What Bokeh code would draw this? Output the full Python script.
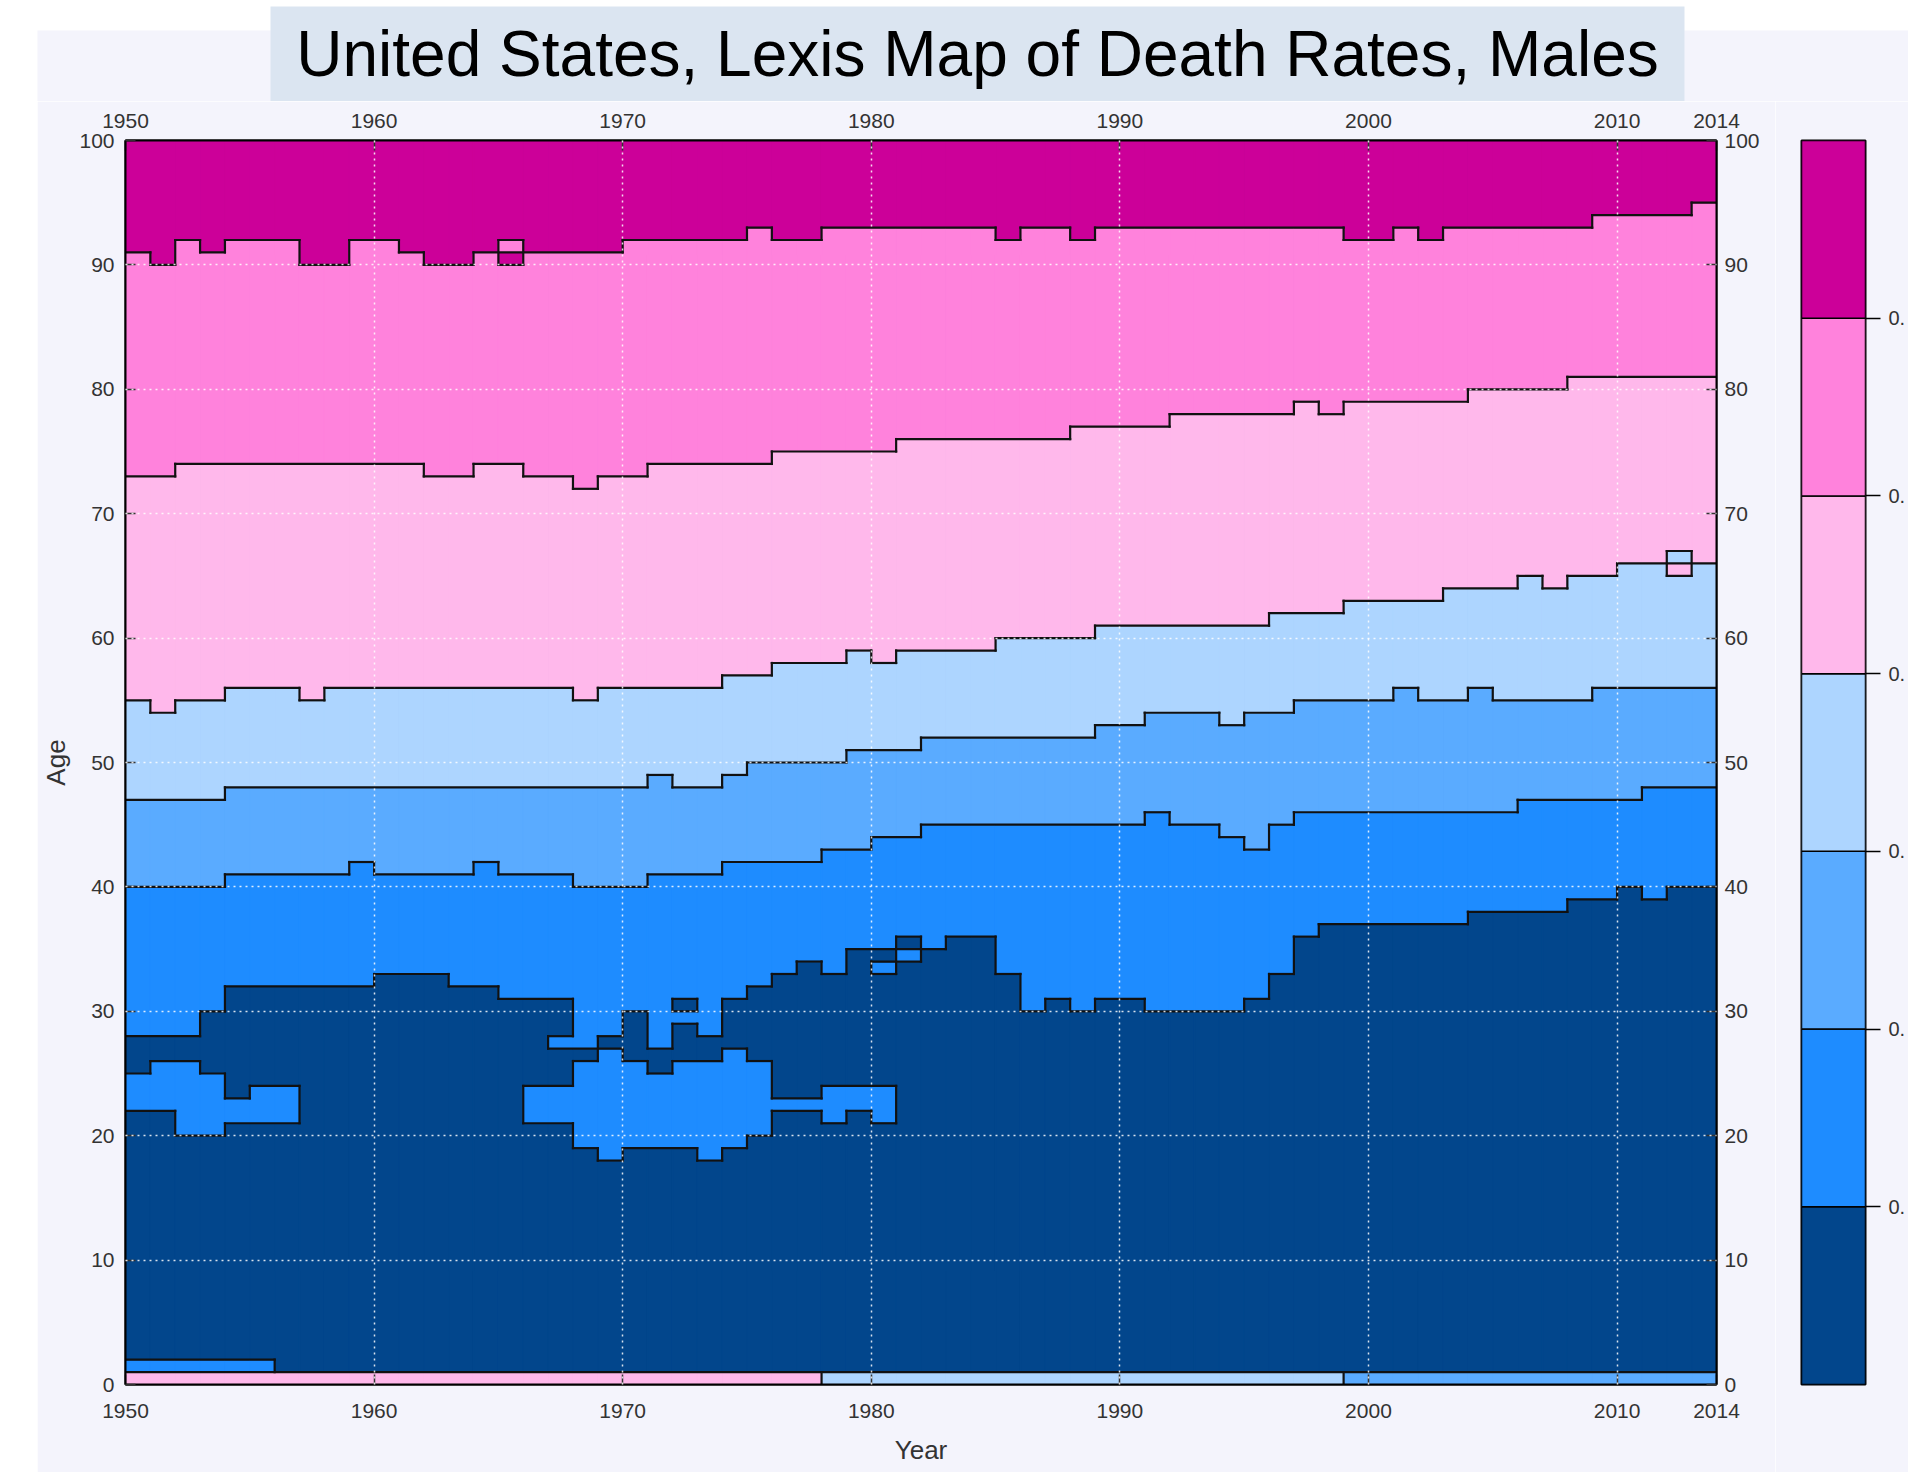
import numpy as np
from bokeh.plotting import figure
from bokeh.models import FixedTicker, LinearAxis, Range1d
from bokeh.layouts import row, column
from bokeh.core.properties import value
from bokeh.embed import file_html
from bokeh.resources import INLINE

# ---------------- data ----------------
years = list(range(1950, 2014))   # one column per calendar year (cell = [year, year+1))

# age at which class 6 (highest rate) starts, per year
b56 = [91, 90, 92, 91, 92, 92, 92, 90, 90, 92,
       92, 91, 90, 90, 91, 90, 91, 91, 91, 91,
       92, 92, 92, 92, 92, 93, 92, 92, 93, 93,
       93, 93, 93, 93, 93, 92, 93, 93, 92, 93,
       93, 93, 93, 93, 93, 93, 93, 93, 93, 92,
       92, 93, 92, 93, 93, 93, 93, 93, 93, 94,
       94, 94, 94, 95]
b45 = [73, 73, 74, 74, 74, 74, 74, 74, 74, 74,
       74, 74, 73, 73, 74, 74, 73, 73, 72, 73,
       73, 74, 74, 74, 74, 74, 75, 75, 75, 75,
       75, 76, 76, 76, 76, 76, 76, 76, 77, 77,
       77, 77, 78, 78, 78, 78, 78, 79, 78, 79,
       79, 79, 79, 79, 80, 80, 80, 80, 81, 81,
       81, 81, 81, 81]
b34 = [55, 54, 55, 55, 56, 56, 56, 55, 56, 56,
       56, 56, 56, 56, 56, 56, 56, 56, 55, 56,
       56, 56, 56, 56, 57, 57, 58, 58, 58, 59,
       58, 59, 59, 59, 59, 60, 60, 60, 60, 61,
       61, 61, 61, 61, 61, 61, 62, 62, 62, 63,
       63, 63, 63, 64, 64, 64, 65, 64, 65, 65,
       66, 66, 65, 66]
b23 = [47, 47, 47, 47, 48, 48, 48, 48, 48, 48,
       48, 48, 48, 48, 48, 48, 48, 48, 48, 48,
       48, 49, 48, 48, 49, 50, 50, 50, 50, 51,
       51, 51, 52, 52, 52, 52, 52, 52, 52, 53,
       53, 54, 54, 54, 53, 54, 54, 55, 55, 55,
       55, 56, 55, 55, 56, 55, 55, 55, 55, 56,
       56, 56, 56, 56]
b12 = [40, 40, 40, 40, 41, 41, 41, 41, 41, 42,
       41, 41, 41, 41, 42, 41, 41, 41, 40, 40,
       40, 41, 41, 41, 42, 42, 42, 42, 43, 43,
       44, 44, 45, 45, 45, 45, 45, 45, 45, 45,
       45, 46, 45, 45, 44, 43, 45, 46, 46, 46,
       46, 46, 46, 46, 46, 46, 47, 47, 47, 47,
       47, 48, 48, 48]
# ages where class toggles between 0 and 1 below b12 (starting with class 0 at age 1)
young = [[22, 25, 28], [22, 26, 28], [20, 26, 28], [20, 25, 30], [21, 23, 32],
         [21, 24, 32], [21, 24, 32], [32], [32], [32],
         [33], [33], [33], [32], [32], [31], [21, 24, 31], [21, 24, 27, 28, 31],
         [19, 26, 27], [18, 27, 28],
         [19, 26, 30], [19, 25, 27], [19, 26, 29, 30, 31], [18, 26, 28], [19, 27, 31],
         [20, 26, 32], [22, 23, 33], [22, 23, 34], [21, 24, 33], [22, 24, 35],
         [21, 24, 33, 34, 35], [34, 35, 36], [35], [36], [36],
         [33], [30], [31], [30], [31],
         [31], [30], [30], [30], [30], [31], [33], [36], [37], [37],
         [37], [37], [37], [37], [38], [38], [38], [38], [39], [39],
         [40], [39], [40], [40]]
infant = [4, 4, 4, 4, 4, 4, 4, 4, 4, 4,
          4, 4, 4, 4, 4, 4, 4, 4, 4, 4,
          4, 4, 4, 4, 4, 4, 4, 4, 3, 3,
          3, 3, 3, 3, 3, 3, 3, 3, 3, 3,
          3, 3, 3, 3, 3, 3, 3, 3, 3, 2,
          2, 2, 2, 2, 2, 2, 2, 2, 2, 2,
          2, 2, 2, 2]
age1 = [1, 1, 1, 1, 1, 1] + [0] * 58
fix_year = [1965, 2012]
fix_age = [91, 66]
fix_class = [5, 3]

class_colors = ["#02468C", "#1E8CFF", "#5AABFF", "#ADD5FF", "#FFB8EB", "#FF82DC", "#CC0099"]
x_ticks = [1950, 1960, 1970, 1980, 1990, 2000, 2010, 2014]
y_ticks = [0, 10, 20, 30, 40, 50, 60, 70, 80, 90, 100]
cb_labels = ["0.", "0.", "0.", "0.", "0.", "0."]
title_text = "United States, Lexis Map of Death Rates, Males"

# ---------------- class grid ----------------
NY, NA = len(years), 100
grid = np.zeros((NY, NA), dtype=int)
for i in range(NY):
    for a in range(NA):
        if a == 0:
            c = infant[i]
        elif a >= b56[i]:
            c = 6
        elif a >= b45[i]:
            c = 5
        elif a >= b34[i]:
            c = 4
        elif a >= b23[i]:
            c = 3
        elif a >= b12[i]:
            c = 2
        else:
            c = sum(1 for b in young[i] if a >= b) % 2
            if a == 1 and age1[i] == 1:
                c = 1
        grid[i, a] = c
for yy, aa, cc in zip(fix_year, fix_age, fix_class):
    grid[years.index(yy), aa] = cc

ql, qr, qb, qt, qc = [], [], [], [], []
for i, yr in enumerate(years):
    a0 = 0
    for a in range(1, NA + 1):
        if a == NA or grid[i, a] != grid[i, a0]:
            ql.append(yr); qr.append(yr + 1); qb.append(a0); qt.append(a)
            qc.append(class_colors[grid[i, a0]])
            a0 = a

sx0, sy0, sx1, sy1 = [], [], [], []
for a in range(1, NA):
    start = None
    for i in range(NY + 1):
        diff = i < NY and grid[i, a] != grid[i, a - 1]
        if diff and start is None:
            start = i
        if not diff and start is not None:
            sx0.append(years[start]); sx1.append(years[0] + i); sy0.append(a); sy1.append(a)
            start = None
for i in range(1, NY):
    start = None
    for a in range(NA + 1):
        diff = a < NA and grid[i, a] != grid[i - 1, a]
        if diff and start is None:
            start = a
        if not diff and start is not None:
            sx0.append(years[i]); sx1.append(years[i]); sy0.append(start); sy1.append(a)
            start = None

# ---------------- layout (page pixels) ----------------
PW, PH = 1908, 1472
TOP_H = 101
LEFT_W = 37
MAIN_R = 1775
FR_L, FR_R, FR_T, FR_B = 125, 1716, 140, 1384
CB_L, CB_R = 1801, 1866
BG = "#F4F4FC"
FONT = "Liberation Sans"
TXT = "#333333"
BODY_H = PH - TOP_H

# top strip with title box
top = figure(width=PW, height=TOP_H, x_range=Range1d(0, PW), y_range=Range1d(0, TOP_H),
             output_backend="svg", toolbar_location=None,
             x_axis_location=None, y_axis_location=None,
             min_border_left=0, min_border_right=0, min_border_top=0, min_border_bottom=0)
top.outline_line_color = None
top.background_fill_color = "white"
top.border_fill_color = "white"
top.xgrid.visible = False
top.ygrid.visible = False
top.quad(left=[LEFT_W], right=[PW], bottom=[0], top=[TOP_H - 30], fill_color=BG, line_color=None)
top.quad(left=[270], right=[1684], bottom=[0], top=[TOP_H - 6], fill_color="#DBE5F1", line_color=None)
top.text(x=[977], y=[48], text=[title_text], text_align="center",
         text_baseline="alphabetic", text_font=value(FONT), text_font_size="64px",
         text_color="black")

# white left margin
left = figure(width=LEFT_W, height=BODY_H, output_backend="svg", toolbar_location=None,
              x_axis_location=None, y_axis_location=None,
              min_border_left=0, min_border_right=0, min_border_top=0, min_border_bottom=0)
left.outline_line_color = None
left.background_fill_color = "white"
left.border_fill_color = "white"
left.xgrid.visible = False
left.ygrid.visible = False

# main Lexis map
p = figure(width=MAIN_R - LEFT_W, height=BODY_H, x_range=Range1d(1950, 2014), y_range=Range1d(0, 100),
           output_backend="svg", toolbar_location=None,
           min_border_left=FR_L - LEFT_W, min_border_right=MAIN_R - FR_R,
           min_border_top=FR_T - TOP_H, min_border_bottom=PH - FR_B,
           x_axis_location="below", y_axis_location="left")
p.border_fill_color = BG
p.border_fill_alpha = 1.0
p.background_fill_color = class_colors[0]
p.outline_line_color = "black"
p.outline_line_width = 2

p.quad(left=ql, right=qr, bottom=qb, top=qt, fill_color=qc, line_color=qc, line_width=1.2)
p.segment(x0=sx0, y0=sy0, x1=sx1, y1=sy1, line_color="#111111", line_width=2.2, line_cap="square")

def style_axis(ax, size):
    ax.major_label_text_font = FONT
    ax.major_label_text_font_size = size
    ax.major_label_text_color = TXT
    ax.major_tick_in = 10
    ax.major_tick_out = 0
    ax.minor_tick_line_color = None
    ax.major_tick_line_color = "#333333"
    ax.major_tick_line_width = 1.5
    ax.axis_line_color = "black"
    ax.axis_line_width = 2
    ax.axis_label_text_font = FONT
    ax.axis_label_text_font_style = "normal"
    ax.axis_label_text_color = TXT
    ax.axis_label_text_font_size = "26px"

p.xaxis.ticker = FixedTicker(ticks=x_ticks)
p.yaxis.ticker = FixedTicker(ticks=y_ticks)
p.xaxis.axis_label = "Year"
p.yaxis.axis_label = "Age"
for ax in p.xaxis:
    style_axis(ax, "21px")
for ax in p.yaxis:
    style_axis(ax, "21px")
p.xaxis.major_label_standoff = 19
p.yaxis.major_label_standoff = 11
p.xaxis.axis_label_standoff = 14
p.yaxis.axis_label_standoff = 5

top_ax = LinearAxis(ticker=FixedTicker(ticks=x_ticks))
style_axis(top_ax, "21px")
top_ax.major_label_standoff = 13
p.add_layout(top_ax, "above")
right_ax = LinearAxis(ticker=FixedTicker(ticks=y_ticks))
style_axis(right_ax, "21px")
right_ax.major_label_standoff = 8
p.add_layout(right_ax, "right")

p.xgrid.ticker = FixedTicker(ticks=[1960, 1970, 1980, 1990, 2000, 2010])
p.ygrid.ticker = FixedTicker(ticks=[10, 20, 30, 40, 50, 60, 70, 80, 90])
for g in (p.xgrid, p.ygrid):
    g.grid_line_color = "white"
    g.grid_line_dash = "2 4"
    g.grid_line_width = 1.5
    g.grid_line_alpha = 0.85
    g.level = "overlay"

# colour bar
cb = figure(width=PW - MAIN_R, height=BODY_H, x_range=Range1d(0, 1), y_range=Range1d(0, 7),
            output_backend="svg", toolbar_location=None,
            x_axis_location=None, y_axis_location=None,
            min_border_left=CB_L - MAIN_R, min_border_right=PW - CB_R,
            min_border_top=FR_T - TOP_H, min_border_bottom=PH - FR_B)
cb.border_fill_color = BG
cb.border_fill_alpha = 1.0
cb.background_fill_color = BG
cb.outline_line_color = "black"
cb.outline_line_width = 2
cb.xgrid.visible = False
cb.ygrid.visible = False
levels = list(range(len(class_colors)))
cb.quad(left=[0] * len(levels), right=[1] * len(levels), bottom=levels,
        top=[l + 1 for l in levels], fill_color=class_colors, line_color="black", line_width=1.5)
cb_ax = LinearAxis(ticker=FixedTicker(ticks=[1, 2, 3, 4, 5, 6]),
                   major_label_overrides={i + 1: s for i, s in enumerate(cb_labels)})
cb_ax.major_label_text_font = FONT
cb_ax.major_label_text_font_size = "20px"
cb_ax.major_label_text_color = TXT
cb_ax.major_tick_in = 0
cb_ax.major_tick_out = 15
cb_ax.major_tick_line_width = 1.5
cb_ax.minor_tick_line_color = None
cb_ax.axis_line_color = None
cb_ax.major_label_standoff = 8
cb.add_layout(cb_ax, "right")

layout = column(top, row(left, p, cb, spacing=0), spacing=0)
open("out.html", "w").write(file_html(layout, INLINE))
